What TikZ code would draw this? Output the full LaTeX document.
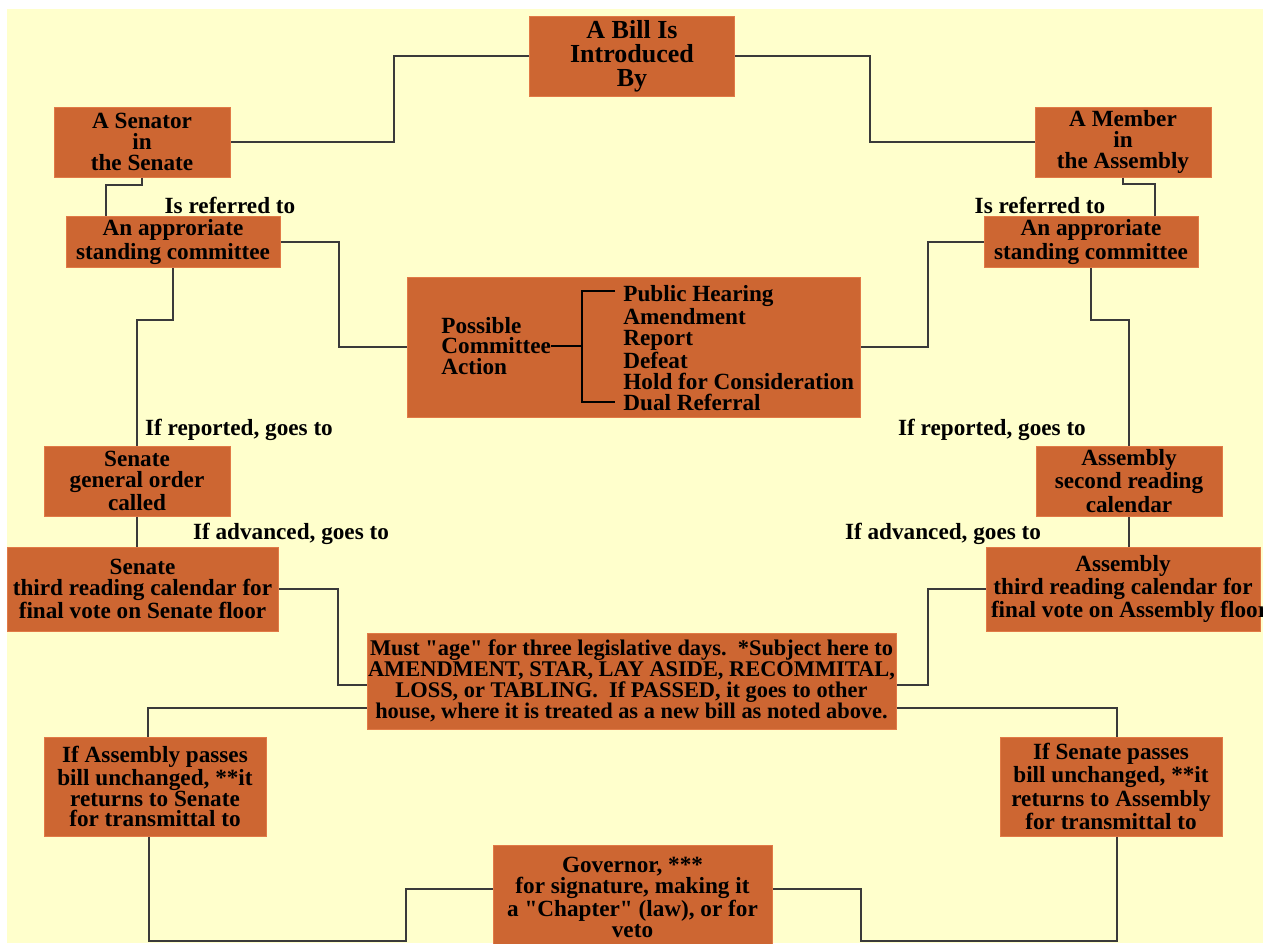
\documentclass[tikz,border=0pt]{standalone}
\usepackage{fontspec}
\setmainfont{Liberation Serif}[Ligatures=TeXOff]
\usetikzlibrary{positioning}
\definecolor{boxorange}{RGB}{205,102,50}
\definecolor{boxedge}{RGB}{225,122,70}
\definecolor{paper}{RGB}{255,255,204}
\definecolor{wirecol}{RGB}{58,58,58}

\begin{document}
\begin{tikzpicture}
  [x=0.5pt,y=-0.5pt,
   every node/.style={font=\fontsize{11.6}{10.4}\selectfont\bfseries, align=center, inner sep=0pt},
   stepbox/.style={fill=boxorange, draw=boxedge, line width=0.5pt},
   wire/.style={draw=wirecol, line width=1pt}]
  \useasboundingbox (0,0) rectangle (1263,943);
  \clip (0,0) rectangle (1263,943);
  \fill[paper] (7,9) rectangle (1263,943);

  % boxes
  \node[stepbox, minimum width=102.5pt, minimum height=40pt, font=\fontsize{13}{12}\selectfont\bfseries] (bill) at (632,56) {A Bill Is\\Introduced\\By};
  \node[stepbox, minimum width=88pt, minimum height=35pt] (senator) at (142,142) {A Senator\\in\\the Senate};
  \node[stepbox, minimum width=88pt, minimum height=35pt] (member) at (1123,142) {A Member\\in\\the Assembly};
  \node[stepbox, minimum width=107pt, minimum height=25.5pt] (lcomm) at (173,242) {An approriate\\standing committee};
  \node[stepbox, minimum width=107pt, minimum height=25.5pt] (rcomm) at (1091,242) {An approriate\\standing committee};
  \node[stepbox, minimum width=226.5pt, minimum height=70pt] (action) at (634,347) {};
  \node[anchor=west, align=left] (acttitle) at (441,346) {Possible\\Committee\\Action};
  \node[anchor=west, align=left] (actlist) at (623,348) {Public Hearing\\Amendment\\Report\\Defeat\\Hold for Consideration\\Dual Referral};
  \node[stepbox, minimum width=93pt, minimum height=35pt] (lgen) at (137,481) {Senate\\general order\\called};
  \node[stepbox, minimum width=93pt, minimum height=35pt] (rsec) at (1129,481) {Assembly\\second reading\\calendar};
  \node[stepbox, minimum width=135.5pt, minimum height=42pt] (lthird) at (142.5,589) {Senate\\third reading calendar for\\final vote on Senate floor};
  \node[stepbox, minimum width=137pt, minimum height=42pt] (rthird) at (1123,589) {Assembly\\third reading calendar for\\\makebox[132pt][l]{final vote on Assembly floor}};
  \node[stepbox, minimum width=264.5pt, minimum height=48pt, font=\fontsize{11.2}{10.4}\selectfont\bfseries] (must) at (631.5,681) {Must "age" for three legislative days.\ \ *Subject here to\\AMENDMENT, STAR, LAY ASIDE, RECOMMITAL,\\LOSS, or TABLING.\ \ If PASSED, it goes to other\\house, where it is treated as a new bill as noted above.};
  \node[stepbox, minimum width=111pt, minimum height=49.5pt] (lret) at (155,786.5) {If Assembly passes\\bill unchanged, **it\\returns to Senate\\for transmittal to};
  \node[stepbox, minimum width=111pt, minimum height=49.5pt] (rret) at (1111,786.5) {If Senate passes\\bill unchanged, **it\\returns to Assembly\\for transmittal to};
  \node[stepbox, minimum width=139.5pt, minimum height=52.5pt] (gov) at (632.5,897.5) {Governor, ***\\for signature, making it\\a "Chapter" (law), or for\\veto};

  % labels
  \node (lref) at (230,205) {Is referred to};
  \node (rref) at (1040,205) {Is referred to};
  \node (lrep) at (239,430) {If reported, goes to};
  \node (rrep) at (992,430) {If reported, goes to};
  \node (ladv) at (291,534) {If advanced, goes to};
  \node (radv) at (943,534) {If advanced, goes to};

  % bracket inside the committee box
  \draw[line width=1pt] (acttitle.east) -- (582,346);
  \draw[line width=1pt] (615,291) -| (582,402) -- (615,402);

  % connectors
  \draw[wire] (bill.west) -- ++(-135,0) |- (senator.east);
  \draw[wire] (bill.east) -- ++(135,0) |- (member.west);
  \draw[wire] (senator.south) -- ++(0,7) -| ([xshift=20pt]lcomm.north west);
  \draw[wire] (member.south) -- ++(0,6) -| ([xshift=-22pt]rcomm.north east);
  \draw[wire] (lcomm.east) -- ++(58,0) |- (action.west);
  \draw[wire] (rcomm.west) -- ++(-56,0) |- (action.east);
  \draw[wire] (lcomm.south) -- ++(0,52) -| (lgen.north);
  \draw[wire] (rcomm.south) -- ++(0,52) -| (rsec.north);
  \foreach \from/\to in {lgen/lthird, rsec/rthird}
    \draw[wire] (\from.south) -- (\from.south |- \to.north);
  \draw[wire] (lthird.east) -- ++(59,0) |- ([yshift=-2pt]must.west);
  \draw[wire] (rthird.west) -- ++(-58,0) |- ([yshift=-2pt]must.east);
  \draw[wire] ([yshift=-13.5pt]must.west) -| ([xshift=-3.5pt]lret.north);
  \draw[wire] ([yshift=-13.5pt]must.east) -| ([xshift=3pt]rret.north);
  \draw[wire] ([xshift=-3pt]lret.south) |- (406,941) |- ([yshift=4.5pt]gov.west);
  \draw[wire] ([xshift=3pt]rret.south) |- (861,941) |- ([yshift=4.5pt]gov.east);
\end{tikzpicture}
\end{document}
